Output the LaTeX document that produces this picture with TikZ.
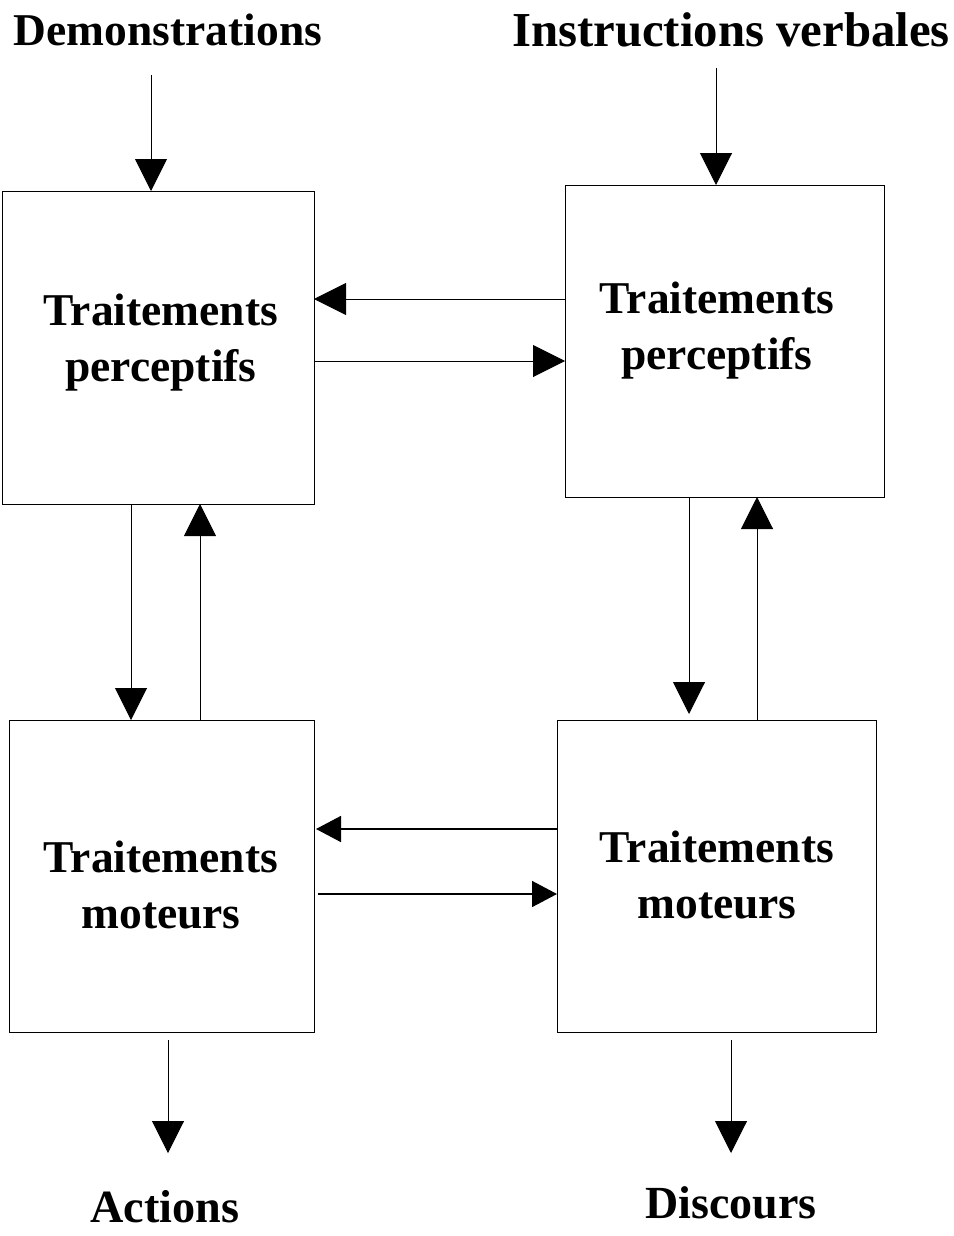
\documentclass[tikz,border=0pt]{standalone}
\usepackage{fontspec}
\setmainfont{Liberation Serif}
\usetikzlibrary{arrows.meta}
\begin{document}
\begin{tikzpicture}[x=1pt,y=-1pt,
  box/.style={draw,line width=1pt,minimum width=#1,inner sep=0pt,outer sep=0pt},
  lbl/.style={font=\fontsize{45.5}{56}\selectfont\bfseries,align=center,inner sep=0pt},
  arr/.style={line width=1pt,-{Triangle[length=32pt,width=32pt]}},
  sarr/.style={line width=1.6pt,-{Triangle[length=25pt,width=26pt]}}]
\useasboundingbox (0,0) rectangle (953,1236);
% boxes
\node[box=312pt,minimum height=313pt] (tl) at (158,347.5) {};
\node[box=319pt,minimum height=312pt] (tr) at (724.5,341) {};
\node[box=305pt,minimum height=312pt] (bl) at (161.5,876) {};
\node[box=319pt,minimum height=312pt] (br) at (716.5,876) {};
% box texts
\node[lbl] (tlt) at (161,343) {Traitements\\perceptifs};
\node[lbl] (trt) at (717,331) {Traitements\\perceptifs};
\node[lbl] (blt) at (161,885) {Traitements\\moteurs};
\node[lbl] (brt) at (717,875) {Traitements\\moteurs};
% outer texts
\node[lbl] (demo) at (168,30) {Demonstrations};
\node[lbl,font=\fontsize{48.8}{56}\selectfont\bfseries] (instr) at (731,30) {Instructions verbales};
\node[lbl,font=\fontsize{46.2}{56}\selectfont\bfseries] (act) at (165,1207) {Actions};
\node[lbl,font=\fontsize{46}{56}\selectfont\bfseries] (disc) at (731,1203) {Discours};
% coordinates
\coordinate (d1) at (151,75);
\coordinate (i1) at (716,68);
\coordinate (h1) at (0,299);
\coordinate (h2) at (0,361);
\coordinate (h3) at (0,829);
\coordinate (h4) at (0,894);
\coordinate (v1) at (131,0);
\coordinate (v2) at (200,0);
\coordinate (v3) at (689,0);
\coordinate (v4) at (757,0);
\coordinate (a1) at (168,1153);
\coordinate (a2) at (731,1153);
% arrows
\draw[arr] (d1) -- (d1 |- tl.north);
\draw[arr] (i1) -- (i1 |- tr.north);
\draw[arr] (tr.west |- h1) -- (tl.east |- h1);
\draw[arr] (tl.east |- h2) -- (tr.west |- h2);
\draw[arr] (v1 |- tl.south) -- (v1 |- bl.north);
\draw[arr] (v2 |- bl.north) -- (v2 |- tl.south);
\draw[arr] (v3 |- tr.south) -- ([yshift=6pt]v3 |- br.north);
\draw[arr] (v4 |- br.north) -- (v4 |- tr.south);
\draw[sarr] (br.west |- h3) -- ([xshift=2pt]bl.east |- h3);
\draw[sarr] ([xshift=4pt]bl.east |- h4) -- (br.west |- h4);
\draw[arr] ([yshift=-8pt]a1 |- bl.south) -- (a1);
\draw[arr] ([yshift=-8pt]a2 |- br.south) -- (a2);
\end{tikzpicture}
\end{document}
